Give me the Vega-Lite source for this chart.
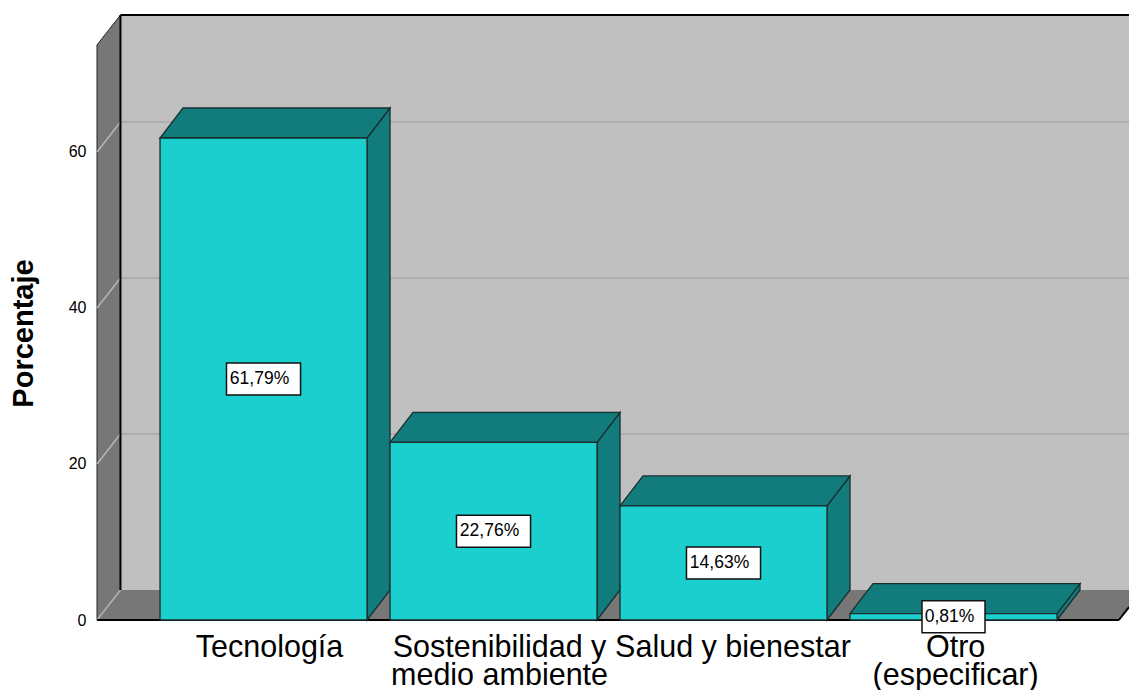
{
"$schema":"https://vega.github.io/schema/vega-lite/v6.json",
"width":1032,"height":605,
"autosize":{"type":"none"},
"padding":{"left":97,"top":15,"right":0,"bottom":70},
"background":"white",
"config":{"view":{"stroke":null},"font":"Liberation Sans"},
"resolve":{"axis":{"y":"independent"}},
"datasets":{
"barras":[
{"orden":1,"categoria":"Tecnología","porcentaje":61.79,"etiqueta":"61,79%"},
{"orden":2,"categoria":"Sostenibilidad y\nmedio ambiente","porcentaje":22.76,"etiqueta":"22,76%"},
{"orden":3,"categoria":"Salud y bienestar","porcentaje":14.63,"etiqueta":"14,63%"},
{"orden":4,"categoria":"Otro\n(especificar)","porcentaje":0.81,"etiqueta":"0,81%"}
],
"ticks":[{"v":0},{"v":20},{"v":40},{"v":60}],
"marco":[{"marco":1}]
},
"layer":[
{"data":{"name":"marco"},"mark":{"type":"rect","fill":"#c0c0c0"},
 "encoding":{
  "x":{"datum":0.102,"type":"quantitative","scale":{"domain":[0,4.487],"nice":false,"zero":false},"axis":null},
  "x2":{"datum":4.487},
  "y":{"datum":3.846,"type":"quantitative","scale":{"domain":[0,77.56],"nice":false,"zero":false},
   "axis":{"title":"Porcentaje","titleFontSize":29,"titleFontWeight":"bold","titleColor":"black","titleX":-59,"titleY":318,"titlePadding":0,
    "values":[0,20,40,60],"labelFontSize":16,"labelColor":"black","labelPadding":11,"domain":false,"ticks":false,"grid":false,"tickSize":0}},
  "y2":{"datum":77.56}}},
{"data":{"name":"ticks"},"transform":[{"filter":"datum.v>0"},{"calculate":"datum.v+3.846","as":"yb"}],
 "mark":{"type":"rule","stroke":"#adadad","strokeWidth":2},
 "encoding":{"x":{"datum":0.102,"type":"quantitative","axis":null},"x2":{"datum":4.487},"y":{"field":"yb","type":"quantitative","axis":null}}},
{"data":{"values":[{"u":0,"a":0,"b":73.72},{"u":0.102,"a":3.846,"b":77.56}]},
 "mark":{"type":"area","fill":"#777777","stroke":"#222222","strokeWidth":1},
 "encoding":{"x":{"field":"u","type":"quantitative","axis":null},"y":{"field":"a","type":"quantitative","axis":null},"y2":{"field":"b"}}},
{"data":{"values":[{"f":0,"l":0,"r":4.443},{"f":3.846,"l":0.102,"r":4.545}]},
 "mark":{"type":"area","orient":"horizontal","fill":"#777777","clip":true},
 "encoding":{"y":{"field":"f","type":"quantitative","axis":null},"x":{"field":"l","type":"quantitative","axis":null},"x2":{"field":"r"}}},
{"data":{"name":"ticks"},"transform":[{"calculate":"datum.v+3.846","as":"yb"}],
 "mark":{"type":"rule","stroke":"#b5b5b5","strokeWidth":1.5},
 "encoding":{"x":{"datum":0,"type":"quantitative","axis":null},"x2":{"datum":0.102},"y":{"field":"v","type":"quantitative","axis":null},"y2":{"field":"yb"}}},
{"data":{"name":"marco"},"mark":{"type":"rule","stroke":"black","strokeWidth":2},
 "encoding":{"x":{"datum":0.102,"type":"quantitative","axis":null},"x2":{"datum":4.487},"y":{"datum":77.56,"type":"quantitative","axis":null}}},
{"data":{"name":"marco"},"mark":{"type":"rule","stroke":"black","strokeWidth":2},
 "encoding":{"x":{"datum":0.102,"type":"quantitative","axis":null},"y":{"datum":3.846,"type":"quantitative","axis":null},"y2":{"datum":77.56}}},
{"data":{"name":"marco"},"mark":{"type":"rule","stroke":"black","strokeWidth":2},
 "encoding":{"x":{"datum":0,"type":"quantitative","axis":null},"x2":{"datum":4.443},"y":{"datum":0,"type":"quantitative","axis":null}}},
{"data":{"name":"marco"},"mark":{"type":"rule","stroke":"black","strokeWidth":2},
 "encoding":{"x":{"datum":4.443,"type":"quantitative","axis":null},"x2":{"datum":4.487},"y":{"datum":0,"type":"quantitative","axis":null},"y2":{"datum":1.66}}},
{"data":{"name":"barras"},
 "transform":[{"calculate":"[0,1]","as":"k"},{"flatten":["k"]},
  {"calculate":"datum.orden-1+0.274+0.9+datum.k*0.1","as":"sx"},
  {"calculate":"datum.k*3.846","as":"sa"},
  {"calculate":"datum.porcentaje+datum.k*3.846","as":"sb"}],
 "mark":{"type":"area","fill":"#127c7c","stroke":"#1a2e2e","strokeWidth":1.3},
 "encoding":{"x":{"field":"sx","type":"quantitative","axis":null},"y":{"field":"sa","type":"quantitative","axis":null},"y2":{"field":"sb"},"detail":{"field":"categoria"}}},
{"data":{"name":"barras"},
 "transform":[{"calculate":"[0,1]","as":"k"},{"flatten":["k"]},
  {"calculate":"datum.orden-1+0.274+datum.k*0.1","as":"tl"},
  {"calculate":"datum.orden-1+0.274+0.9+datum.k*0.1","as":"tr"},
  {"calculate":"datum.porcentaje+datum.k*3.846","as":"ty"}],
 "mark":{"type":"area","orient":"horizontal","fill":"#127c7c","stroke":"#1a2e2e","strokeWidth":1.3},
 "encoding":{"y":{"field":"ty","type":"quantitative","axis":null},"x":{"field":"tl","type":"quantitative","axis":null},"x2":{"field":"tr"},"detail":{"field":"categoria"}}},
{"data":{"name":"barras"},
 "transform":[{"calculate":"datum.orden-1+0.274","as":"fl"},{"calculate":"datum.orden-1+0.274+0.9","as":"fr"}],
 "mark":{"type":"rect","fill":"#1ccfcf","stroke":"#1a2e2e","strokeWidth":1.3},
 "encoding":{"x":{"field":"fl","type":"quantitative","axis":null},"x2":{"field":"fr"},"y":{"field":"porcentaje","type":"quantitative","axis":null},"y2":{"datum":0}}},
{"data":{"name":"barras"},
 "transform":[{"calculate":"datum.orden-1+0.274+0.45","as":"c"},
  {"calculate":"length(datum.etiqueta)==6?0.161:0.137","as":"hw"},
  {"calculate":"datum.c-datum.hw","as":"bl"},{"calculate":"datum.c+datum.hw","as":"br"},
  {"calculate":"datum.porcentaje/2-2.05","as":"bb"},{"calculate":"datum.porcentaje/2+2.05","as":"bt"}],
 "mark":{"type":"rect","fill":"white","stroke":"#111111","strokeWidth":1.5},
 "encoding":{"x":{"field":"bl","type":"quantitative","axis":null},"x2":{"field":"br"},"y":{"field":"bb","type":"quantitative","axis":null},"y2":{"field":"bt"}}},
{"data":{"name":"barras"},
 "transform":[{"calculate":"datum.orden-1+0.274+0.45","as":"c"},{"calculate":"datum.porcentaje/2","as":"m"}],
 "mark":{"type":"text","align":"center","baseline":"middle","fontSize":17.5,"dx":-4,"color":"black"},
 "encoding":{"x":{"field":"c","type":"quantitative","axis":null},"y":{"field":"m","type":"quantitative","axis":null},"text":{"field":"etiqueta"}}},
{"data":{"name":"barras"},
 "transform":[{"calculate":"datum.orden-1+0.274+0.45+[0,0,0.015,-0.017][datum.orden-1]","as":"c"}],
 "mark":{"type":"text","align":"center","baseline":"alphabetic","fontSize":30.5,"lineBreak":"\n","lineHeight":28,"dx":6,"color":"black"},
 "encoding":{"x":{"field":"c","type":"quantitative","axis":null},"y":{"datum":-4.74,"type":"quantitative","axis":null},"text":{"field":"categoria"}}}
]
}
